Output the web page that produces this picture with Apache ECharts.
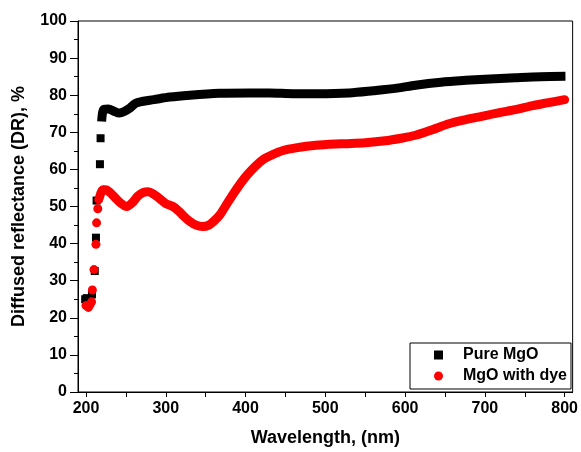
<!DOCTYPE html>
<html>
<head>
<meta charset="utf-8">
<script src="https://cdn.jsdelivr.net/npm/echarts@6/dist/echarts.min.js"></script>
<style>
html, body { margin: 0; padding: 0; background: #fff; }
#chart { width: 581px; height: 452px; }
</style>
</head>
<body>
<div id="chart"></div>
<script>
// Pure MgO - separate markers at the absorption edge, then the dense band
var pureEdgeX = [199, 201, 207.5, 211, 212.5, 213.3, 217.5, 218.3];
var pureEdgeY = [25, 25.3, 26.3, 32.6, 41.6, 51.6, 61.4, 68.4];
var pureX = [219.6, 221, 223, 228, 235, 242, 248, 255, 262, 270, 285, 305, 330, 367, 405, 430, 460, 490, 530, 560, 590, 613, 645, 676, 700, 738, 770, 801];
var pureY = [72.9, 75.5, 76.2, 76.3, 75.7, 75.2, 75.6, 76.5, 77.8, 78.3, 78.8, 79.5, 80, 80.5, 80.6, 80.6, 80.4, 80.4, 80.6, 81.2, 81.9, 82.7, 83.5, 84, 84.3, 84.7, 85, 85.1];

// MgO with dye
var dyeEdgeX = [200, 203, 205, 207, 208, 210, 212.5, 213.3, 214.8, 216];
var dyeEdgeY = [23.3, 22.8, 23.5, 24.3, 27.5, 33, 39.8, 45.6, 49.4, 51.9];
var dyeX = [217, 221, 225, 230, 236, 243, 251, 258, 265, 272, 278, 285, 293, 300, 309, 316, 323, 330, 338, 346, 354, 360, 368, 376, 385, 393, 402, 413, 423, 434, 447, 463, 488, 520, 550, 575, 595, 613, 634, 655, 676, 696, 718, 738, 760, 780, 800];
var dyeY = [52.5, 54.5, 54.5, 53.8, 52.5, 51, 50, 51, 52.8, 53.8, 54, 53.3, 52, 50.8, 50, 48.8, 47.3, 46, 45, 44.6, 45, 46, 47.8, 50.5, 53.5, 56, 58.5, 61, 62.8, 64, 65.1, 65.8, 66.5, 66.9, 67.2, 67.7, 68.4, 69.2, 70.7, 72.3, 73.4, 74.3, 75.3, 76.1, 77.2, 78, 78.8];

var xLabels = [200, 300, 400, 500, 600, 700, 800];
var xTicks = [200, 250, 300, 350, 400, 450, 500, 550, 600, 650, 700, 750, 800];

function pairs(xs, ys) {
    return xs.map(function (x, i) { return [x, ys[i]]; });
}

var font = 'Liberation Sans, Arial, Helvetica, sans-serif';
var chart = echarts.init(document.getElementById('chart'));

var option = {
    backgroundColor: '#fff',
    animation: false,
    grid: {
        left: 78, top: 21, right: 7, bottom: 58,
        show: true, borderColor: '#000', borderWidth: 1
    },
    legend: {
        left: 410, top: 343,
        orient: 'vertical',
        data: [
            { name: 'Pure MgO', icon: 'rect' },
            { name: 'MgO with dye', icon: 'circle' }
        ],
        itemWidth: 9, itemHeight: 9, itemGap: 5,
        padding: [4, 4, 5, 24],
        borderColor: '#000', borderWidth: 1,
        textStyle: {
            fontFamily: font, fontWeight: 'bold', fontSize: 16,
            color: '#000', lineHeight: 16, padding: [0, 0, 0, 15]
        }
    },
    xAxis: {
        type: 'value',
        min: 190, max: 810,
        name: 'Wavelength, (nm)',
        nameLocation: 'middle',
        nameGap: 37,
        nameTextStyle: { fontFamily: font, fontWeight: 'bold', fontSize: 18, color: '#000' },
        axisLine: { show: true, lineStyle: { color: '#000', width: 1 } },
        axisTick: { show: true, length: 5, customValues: xTicks, lineStyle: { color: '#000' } },
        axisLabel: {
            customValues: xLabels, margin: 9,
            fontFamily: font, fontWeight: 'bold', fontSize: 16, color: '#000'
        },
        splitLine: { show: false }
    },
    yAxis: {
        type: 'value',
        min: 0, max: 100, interval: 10,
        name: 'Diffused reflectance (DR), %',
        nameLocation: 'middle',
        nameGap: 50,
        nameTextStyle: { fontFamily: font, fontWeight: 'bold', fontSize: 18, color: '#000' },
        axisLine: { show: true, lineStyle: { color: '#000', width: 1 } },
        axisTick: { show: true, length: 8, lineStyle: { color: '#000' } },
        minorTick: { show: true, splitNumber: 2, length: 4, lineStyle: { color: '#000' } },
        axisLabel: {
            margin: 11,
            fontFamily: font, fontWeight: 'bold', fontSize: 16, color: '#000'
        },
        splitLine: { show: false }
    },
    series: [
        {
            name: 'Pure MgO',
            type: 'scatter',
            symbol: 'rect',
            symbolSize: 8,
            itemStyle: { color: '#000', opacity: 1 },
            data: pairs(pureEdgeX, pureEdgeY)
        },
        {
            name: 'Pure MgO band',
            type: 'line',
            smooth: 0.3,
            showSymbol: false,
            lineStyle: { color: '#000', width: 9, cap: 'butt' },
            data: pairs(pureX, pureY)
        },
        {
            name: 'MgO with dye',
            type: 'scatter',
            symbol: 'circle',
            symbolSize: 9,
            itemStyle: { color: '#ff0000', opacity: 1 },
            data: pairs(dyeEdgeX, dyeEdgeY)
        },
        {
            name: 'MgO with dye band',
            type: 'line',
            smooth: 0.3,
            showSymbol: false,
            lineStyle: { color: '#ff0000', width: 9, cap: 'round' },
            data: pairs(dyeX, dyeY)
        }
    ]
};

chart.setOption(option);
</script>
</body>
</html>
